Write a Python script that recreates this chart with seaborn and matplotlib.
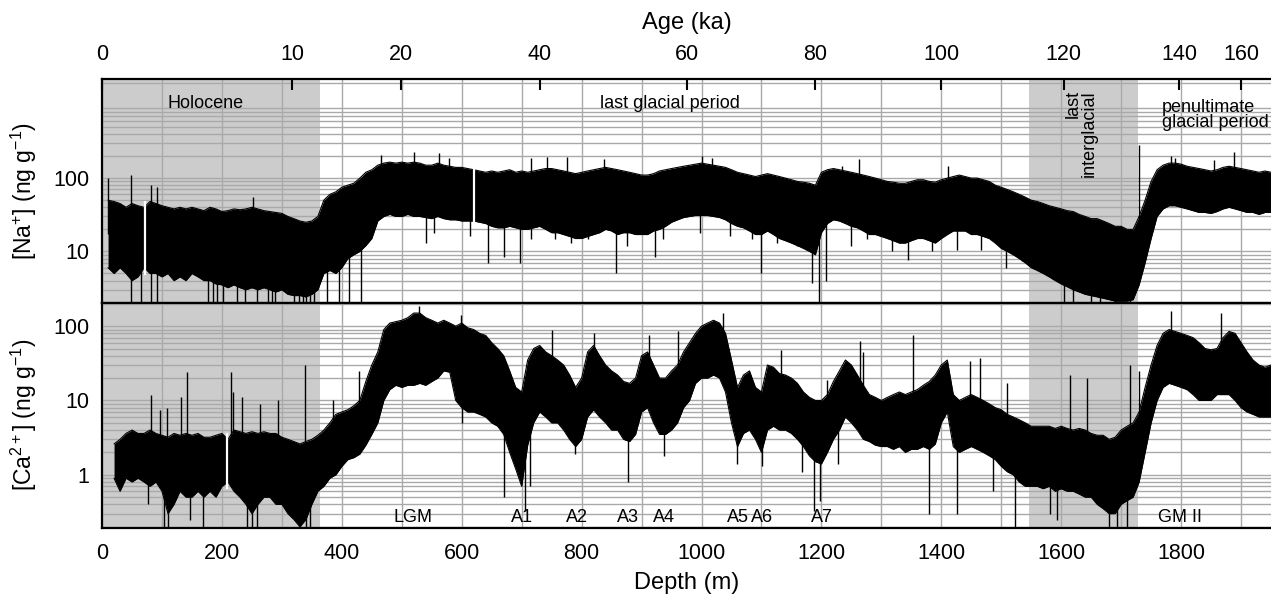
import numpy as np
import pandas as pd
import matplotlib
matplotlib.use("Agg")
import matplotlib.pyplot as plt
from matplotlib.ticker import MultipleLocator, LogLocator, NullFormatter
import seaborn as sns

sns.set_theme(style="white")
plt.rcParams["font.family"] = ["Liberation Sans", "DejaVu Sans"]
plt.rcParams["mathtext.fontset"] = "custom"
plt.rcParams["mathtext.rm"] = "Liberation Sans"
plt.rcParams["mathtext.it"] = "Liberation Sans:italic"
plt.rcParams["text.color"] = "black"
plt.rcParams["axes.labelcolor"] = "black"
plt.rcParams["xtick.color"] = "black"
plt.rcParams["ytick.color"] = "black"

# =========================================================
# DATA (envelope of the record every 10 m)
# =========================================================

na_depth = list(range(10, 1951, 10))
na_hi = [50, 48, 45, 40, 45, 42, 40, 48, 45, 42,
         40, 38, 40, 38, 40, 38, 36, 40, 38, 35,
         36, 38, 37, 38, 40, 38, 36, 35, 34, 33,
         30, 28, 26, 25, 26, 30, 50, 60, 65, 75,
         80, 85, 100, 120, 130, 150, 160, 165, 160, 165,
         160, 165, 160, 150, 150, 160, 150, 145, 140, 140,
         135, 130, 125, 120, 125, 120, 125, 130, 120, 125,
         120, 125, 130, 135, 135, 130, 125, 120, 115, 120,
         125, 130, 135, 140, 135, 130, 125, 120, 115, 110,
         110, 115, 125, 130, 135, 140, 145, 150, 155, 160,
         155, 150, 145, 140, 130, 120, 115, 110, 105, 110,
         115, 110, 105, 100, 95, 90, 88, 85, 80, 120,
         130, 135, 130, 125, 120, 115, 110, 105, 100, 95,
         90, 88, 85, 85, 90, 95, 95, 90, 88, 95,
         100, 105, 110, 105, 100, 100, 95, 90, 80, 75,
         70, 65, 60, 55, 50, 48, 45, 42, 40, 38,
         36, 35, 32, 30, 28, 28, 26, 24, 22, 22,
         20, 20, 30, 50, 90, 130, 150, 160, 160, 155,
         145, 140, 135, 130, 125, 130, 140, 145, 140, 135,
         130, 125, 120, 125, 120]
na_lo = [6, 5, 6, 5, 4, 4.5, 6, 5, 5, 4.5,
         5, 4, 4.5, 4, 5, 4.5, 4, 4, 3.6, 3.5,
         3.2, 3.5, 3.2, 3, 3.2, 3, 3.2, 3, 2.8, 3,
         2.6, 2.5, 2.5, 2.4, 2.6, 3, 5, 5.5, 5, 6,
         8, 9, 10, 12, 15, 26, 30, 32, 30, 30,
         32, 30, 30, 29, 28, 30, 28, 27, 27, 26,
         26, 26, 25, 24, 22, 21, 21, 22, 21, 20,
         20, 21, 22, 20, 18, 18, 17, 16, 15, 15,
         16, 17, 18, 20, 19, 17, 18, 18, 17, 17,
         17, 19, 20, 22, 25, 27, 29, 30, 31, 31,
         31, 30, 29, 27, 24, 22, 21, 19, 17, 17,
         19, 17, 15, 14, 13, 12, 11, 10, 9, 18,
         24, 27, 26, 24, 22, 21, 19, 17, 17, 16,
         15, 14, 13, 13, 14, 15, 15, 14, 13, 15,
         17, 19, 19, 19, 17, 17, 16, 15, 13, 11,
         10, 9, 8, 7, 6, 5.5, 5, 4.5, 4, 3.6,
         3.3, 3, 2.8, 2.6, 2.5, 2.4, 2.3, 2.2, 2.1, 2.1,
         2.1, 2.2, 3.5, 7, 15, 30, 38, 42, 42, 40,
         38, 36, 34, 34, 33, 35, 38, 40, 38, 36,
         34, 34, 32, 34, 34]

na_up_depth = [10, 48, 82, 92, 252, 466, 521, 562, 579, 715, 742, 776, 838,
               1000, 1017, 1235, 1262, 1412, 1729, 1783, 1790, 1855, 1889]
na_up_value = [100, 110, 80, 75, 56, 208, 230, 219, 190, 187, 195, 195, 180,
               200, 190, 144, 180, 145, 285, 200, 190, 175, 230]
na_down_depth = [49, 65, 82, 92, 177, 185, 191, 201, 225, 238, 259, 276, 283,
                 289, 320, 328, 335, 341, 347, 354, 375, 395, 412, 432,
                 541, 553, 613, 643, 670, 698, 715, 756, 783, 810, 858, 875,
                 901, 922, 935, 997, 1048, 1085, 1099, 1126, 1160, 1184,
                 1196, 1208, 1249, 1276, 1317, 1344, 1385, 1426, 1467, 1508,
                 1535, 1562, 1605, 1620, 1650, 1665, 1690, 1700, 1715]
na_down_value = [1.9, 1.9, 1.9, 1.9, 1.9, 1.9, 1.9, 1.9, 1.9, 1.9, 1.9, 1.9, 1.9,
                 1.9, 1.9, 1.9, 1.9, 1.9, 1.9, 1.9, 1.9, 1.9, 1.9, 1.9,
                 13, 18, 16, 7, 8.5, 7, 15, 15, 13, 15, 5, 12,
                 18, 8.5, 15, 18, 16, 15, 5, 13, 12, 3.7,
                 1.9, 4, 12, 15, 10, 7.7, 10, 10.5, 10.5, 6,
                 7.5, 5.5, 1.9, 1.9, 1.9, 1.9, 1.9, 1.9, 1.9]
na_gaps = [72, 620]

ca_depth = list(range(20, 1951, 10))
ca_hi = [2.6, 3.0, 3.6, 4.0, 3.6, 3.6, 4.0, 3.6, 3.4,
         3.2, 3.6, 3.4, 3.6, 3.4, 3.6, 3.2, 3.2, 3.4, 3.6,
         3.0, 4.0, 3.8, 3.6, 3.8, 3.6, 3.8, 3.6, 3.6, 3.2,
         3.0, 2.8, 2.6, 2.8, 3.0, 3.4, 4.0, 5.0, 6.5, 7.0,
         7.5, 8.5, 10, 18, 30, 45, 90, 110, 115, 120,
         130, 150, 150, 130, 120, 110, 120, 110, 100, 110,
         95, 90, 80, 75, 60, 50, 40, 25, 15, 13,
         35, 50, 55, 45, 40, 35, 30, 22, 15, 20,
         45, 55, 40, 30, 25, 22, 18, 17, 20, 40,
         45, 30, 20, 20, 25, 30, 45, 60, 80, 100,
         110, 120, 110, 80, 35, 15, 22, 25, 15, 13,
         30, 28, 23, 22, 20, 17, 13, 11, 10, 10,
         12, 18, 25, 35, 30, 22, 16, 12, 11, 10,
         11, 12, 13, 12, 13, 14, 16, 18, 22, 30,
         35, 12, 10, 11, 12, 11, 10, 9, 8, 7.5,
         6.5, 6, 5.5, 5, 4.5, 4.5, 4.5, 4.5, 4.2, 4.5,
         4.2, 4.0, 4.2, 4.0, 3.6, 3.4, 3.4, 3.0, 3.2, 4.0,
         4.5, 5, 7, 15, 30, 55, 80, 90, 85, 80,
         75, 70, 60, 50, 48, 50, 70, 85, 80, 60,
         45, 35, 30, 28, 30]
ca_lo = [0.9, 0.6, 0.9, 0.8, 0.9, 0.8, 0.7, 0.8, 0.6,
         0.3, 0.4, 0.6, 0.5, 0.5, 0.6, 0.5, 0.6, 0.5, 0.7,
         0.8, 0.6, 0.5, 0.4, 0.3, 0.4, 0.5, 0.5, 0.4, 0.4,
         0.3, 0.25, 0.2, 0.25, 0.4, 0.6, 0.7, 0.9, 1.0, 1.3,
         1.6, 1.7, 1.9, 2.5, 3.5, 5, 10, 14, 16, 15,
         16, 16, 17, 16, 18, 20, 25, 24, 10, 8,
         7, 7, 6.5, 6, 5, 4.5, 3.5, 2, 1.2, 0.7,
         2.5, 5, 7, 6, 5, 5, 4, 3, 2.4, 3,
         6, 7.5, 6, 5, 4, 4, 3, 2.8, 3.5, 7,
         8, 5, 3.5, 3.5, 4, 5, 8, 10, 17, 20,
         20, 22, 20, 13, 5, 2.4, 3.6, 4, 3, 2,
         4, 4.5, 4, 4, 3.6, 3, 2.4, 1.8, 1.5, 1.4,
         2, 3, 4, 6, 5, 4, 3, 2.8, 2.5, 2.4,
         2.4, 2.2, 2.4, 2, 2.2, 2.2, 2.4, 2.2, 2.6, 5,
         7, 2.4, 2, 2.2, 2.4, 2.2, 2, 1.8, 1.6, 1.3,
         1.1, 1.0, 0.8, 0.7, 0.7, 0.7, 0.65, 0.7, 0.6, 0.65,
         0.6, 0.6, 0.55, 0.5, 0.5, 0.4, 0.35, 0.3, 0.3, 0.4,
         0.45, 0.5, 0.8, 2, 5, 10, 15, 17, 16, 15,
         14, 12, 10, 10, 10, 12, 12, 12, 10, 8,
         7, 6.5, 6, 6, 6]

ca_up_depth = [81, 97, 108, 131, 141, 215, 218, 234, 264, 293, 338, 385, 428,
               528, 598, 750, 820, 912, 960, 1036, 1133, 1209, 1264, 1270,
               1352, 1448, 1465, 1509, 1615, 1643, 1715, 1729, 1783, 1866]
ca_up_value = [12, 7.5, 8, 11, 24, 24, 13, 11, 9, 10, 30, 10, 25,
               186, 143, 90, 81, 77, 86, 150, 48, 19, 63, 45,
               77, 34, 37, 17, 22, 20, 30, 25, 160, 150]
ca_down_depth = [77, 104, 110, 147, 169, 241, 250, 258, 330, 340, 347, 600,
                 671, 706, 714, 789, 877, 937, 1059, 1101, 1167, 1188, 1198,
                 1227, 1379, 1426, 1487, 1523, 1582, 1593, 1679, 1693, 1710]
ca_down_value = [0.4, 0.18, 0.18, 0.25, 0.18, 0.18, 0.18, 0.18, 0.18, 0.18, 0.18, 5,
                 0.5, 0.33, 0.7, 1.9, 0.8, 1.8, 1.4, 1.3, 1.1, 0.33, 0.45,
                 1.4, 0.3, 0.3, 0.6, 0.18, 0.3, 0.25, 0.18, 0.18, 0.2]
ca_gaps = [208]

# periods (depth, m) and age scale (ka -> depth)
holocene = (0, 364)
interglacial = (1547, 1728)
age_labels = ["0", "10", "20", "40", "60", "80", "100", "120", "140", "160"]
age_depth = [0, 317, 498, 730, 975, 1189, 1400, 1604, 1797, 1900]

event_labels = ["LGM", "A1", "A2", "A3", "A4", "A5", "A6", "A7", "GM II"]
event_depth = [519, 701, 793, 877, 938, 1060, 1101, 1201, 1799]

GRID = "#a9a9a9"
SHADE = "#cccccc"


def draw_record(ax, depth, hi, lo, up_d, up_v, dn_d, dn_v, gaps):
    df = pd.DataFrame({"depth": depth, "hi": hi, "lo": lo})
    ax.fill_between(df["depth"], df["lo"], df["hi"], color="black", lw=0, zorder=2)
    sns.lineplot(data=df, x="depth", y="hi", ax=ax, color="black", lw=0.8,
                 estimator=None, zorder=2)
    sns.lineplot(data=df, x="depth", y="lo", ax=ax, color="black", lw=0.8,
                 estimator=None, zorder=2)
    d = df["depth"].to_numpy()
    mid = np.sqrt(df["hi"].to_numpy() * df["lo"].to_numpy())
    base_up = [mid[np.abs(d - x).argmin()] for x in up_d]
    base_dn = [mid[np.abs(d - x).argmin()] for x in dn_d]
    ax.vlines(up_d, base_up, up_v, color="black", lw=1.0, zorder=2)
    ax.vlines(dn_d, dn_v, base_dn, color="black", lw=1.0, zorder=2)
    for g in gaps:
        i = np.abs(d - g).argmin()
        ax.vlines(g, df["lo"][i] * 0.8, df["hi"][i] * 1.2, color="white", lw=1.6, zorder=3)


def style_axes(ax, ylim, yticks):
    ax.set_yscale("log")
    ax.set_xlim(0, 1950)
    ax.set_ylim(*ylim)
    ax.axvspan(*holocene, color=SHADE, lw=0, zorder=0)
    ax.axvspan(*interglacial, color=SHADE, lw=0, zorder=0)
    ax.set_axisbelow(True)
    ax.xaxis.set_major_locator(MultipleLocator(200))
    ax.xaxis.set_minor_locator(MultipleLocator(100))
    ax.yaxis.set_major_locator(LogLocator(base=10, subs=(1.0,)))
    ax.yaxis.set_minor_locator(LogLocator(base=10, subs=np.arange(2, 10)))
    ax.yaxis.set_minor_formatter(NullFormatter())
    ax.grid(True, which="both", axis="both", color=GRID, lw=1.0)
    ax.set_yticks(yticks)
    ax.set_yticklabels([str(t) for t in yticks])
    ax.tick_params(axis="y", which="both", length=0, pad=9, labelsize=15.5, colors="black")
    ax.tick_params(axis="x", which="both", length=0, pad=11, labelsize=15.5, colors="black")
    for s in ["left", "top", "bottom"]:
        ax.spines[s].set_color("black")
        ax.spines[s].set_linewidth(1.6)
        ax.spines[s].set_visible(True)
    ax.spines["right"].set_visible(False)
    ax.set_xlabel("")
    ax.set_ylabel("")


fig = plt.figure(figsize=(12.71, 5.95), dpi=100)
ax1 = fig.add_axes([0.0803, 0.4913, 0.9197, 0.3760])
ax2 = fig.add_axes([0.0803, 0.1131, 0.9197, 0.3782])

draw_record(ax1, na_depth, na_hi, na_lo, na_up_depth, na_up_value,
            na_down_depth, na_down_value, na_gaps)
draw_record(ax2, ca_depth, ca_hi, ca_lo, ca_up_depth, ca_up_value,
            ca_down_depth, ca_down_value, ca_gaps)

style_axes(ax1, (2, 2250), [10, 100])
style_axes(ax2, (0.194, 207), [1, 10, 100])
ax1.set_xticklabels([])

ax1.set_ylabel(r"[Na$^{+}$] (ng g$^{-1}$)", fontsize=16.5, labelpad=14)
ax2.set_ylabel(r"[Ca$^{2+}$] (ng g$^{-1}$)", fontsize=16.5, labelpad=14)
ax1.yaxis.set_label_coords(-0.054, 0.5)
ax2.yaxis.set_label_coords(-0.054, 0.5)
ax2.set_xlabel("Depth (m)", fontsize=17, labelpad=6)

# age axis on top
ax_age = ax1.twiny()
ax_age.set_xlim(ax1.get_xlim())
ax_age.set_xticks(age_depth)
ax_age.set_xticklabels(age_labels)
ax_age.tick_params(axis="x", direction="in", length=8, width=1.5, pad=10,
                   labelsize=15.5, colors="black")
ax_age.set_xlabel("Age (ka)", fontsize=17, labelpad=11)
for s in ax_age.spines.values():
    s.set_visible(False)

# period annotations
ax1.text(172, 1028, "Holocene", ha="center", va="center", fontsize=13, color="black")
ax1.text(948, 1028, "last glacial period", ha="center", va="center", fontsize=13,
         color="black")
ax1.text(1633, 1596, "last\ninterglacial", ha="center", va="top", rotation=90,
         multialignment="right", fontsize=13, linespacing=0.95, color="black")
ax1.text(1768, 728, "penultimate\nglacial period", ha="left", va="center",
         fontsize=13, linespacing=0.9, color="black")

for lab, d in zip(event_labels, event_depth):
    ax2.text(d, 0.27, lab, ha="center", va="center", fontsize=13, color="black")

fig.savefig("out.png", dpi=100)
